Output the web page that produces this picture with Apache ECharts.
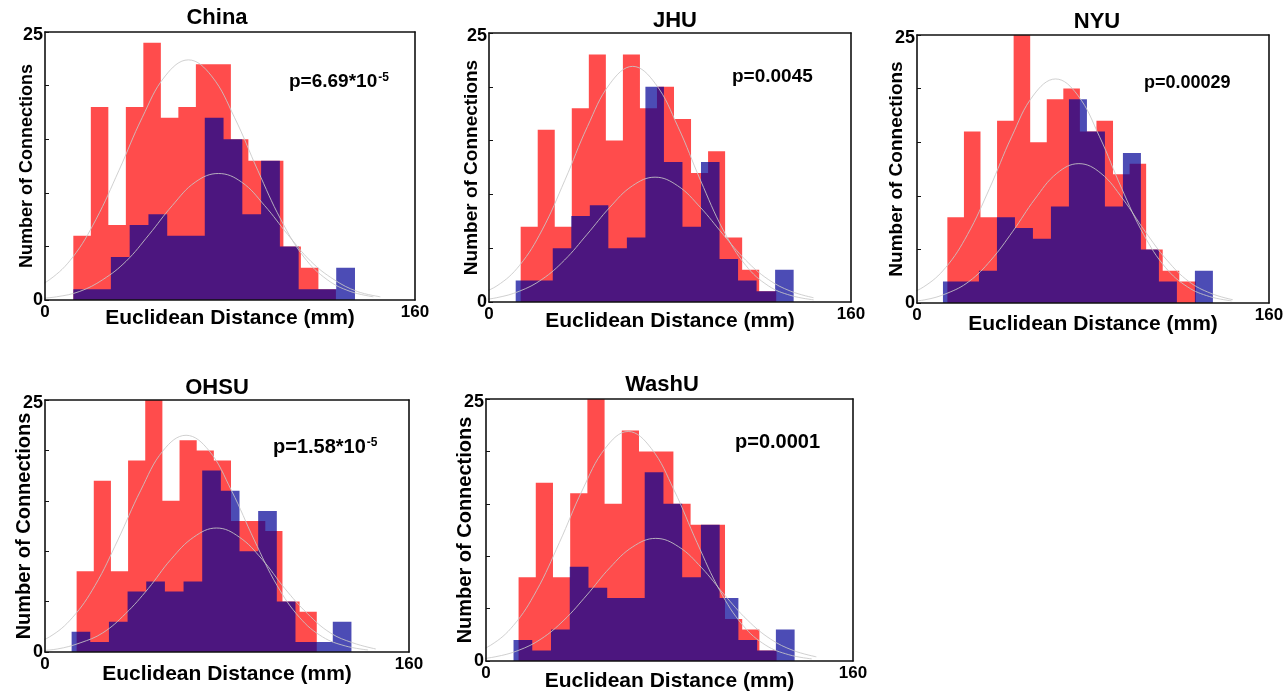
<!DOCTYPE html>
<html>
<head>
<meta charset="utf-8">
<title>Euclidean Distance of Connections</title>
<script src="https://cdn.jsdelivr.net/npm/echarts@6/dist/echarts.min.js"></script>
<style>
  html, body { margin: 0; padding: 0; background: #fff; }
  #chart { width: 1287px; height: 695px; }
</style>
</head>
<body>
<div id="chart"></div>
<script>
// Histogram bins: first edge (mm), bin width (mm) and counts per bin.
// Red = first group, blue = second group, per site.
const chinaRedStart = 12.25, chinaRedWidth = 7.57;
const chinaRedCounts = [6, 18, 7, 18, 24, 17, 18, 22, 22, 15, 13, 13, 5, 3, 1];
const chinaBlueStart = 12.25, chinaBlueWidth = 8.12;
const chinaBlueCounts = [1, 1, 4, 7, 8, 6, 6, 17, 15, 8, 13, 5, 1, 1, 3];

const jhuRedStart = 14.0, jhuRedWidth = 7.53;
const jhuRedCounts = [7, 16, 7, 18, 23, 15, 23, 18, 20, 17, 12, 14, 6, 3, 1];
const jhuBlueStart = 11.8, jhuBlueWidth = 8.19;
const jhuBlueCounts = [2, 2, 5, 8, 9, 5, 6, 20, 13, 7, 13, 4, 2, 1, 3];

const nyuRedStart = 13.8, nyuRedWidth = 7.53;
const nyuRedCounts = [8, 16, 8, 17, 25, 15, 19, 20, 16, 17, 12, 13, 5, 3, 2];
const nyuBlueStart = 11.8, nyuBlueWidth = 8.18;
const nyuBlueCounts = [2, 2, 3, 8, 7, 6, 9, 19, 16, 9, 14, 5, 2, 0, 3];

const ohsuRedStart = 13.9, ohsuRedWidth = 7.54;
const ohsuRedCounts = [8, 17, 8, 19, 25, 15, 21, 20, 19, 13, 13, 12, 5, 4];
const ohsuBlueStart = 11.7, ohsuBlueWidth = 8.2;
const ohsuBlueCounts = [2, 1, 3, 6, 7, 6, 7, 18, 16, 10, 14, 5, 1, 1, 3];

const washuRedStart = 14.2, washuRedWidth = 7.5;
const washuRedCounts = [8, 17, 8, 16, 25, 15, 22, 20, 20, 15, 13, 13, 4, 3, 1];
const washuBlueStart = 12.0, washuBlueWidth = 8.17;
const washuBlueCounts = [2, 1, 3, 9, 7, 6, 6, 18, 15, 8, 13, 6, 2, 1, 3];

// Fitted distribution curves: first sample x (mm), samples every 10 mm.
const fitStep = 10;
const chinaRedFitX0 = -8;
const chinaRedFit  = [0.8, 1.9, 4.0, 7.5, 12.1, 17.0, 20.9, 22.4, 20.9, 17.0, 12.1, 7.5, 4.0, 1.9, 0.8, 0.3];
const chinaBlueFitX0 = -5;
const chinaBlueFit = [0.1, 0.3, 0.8, 1.9, 3.6, 6.1, 8.8, 11.0, 11.8, 11.0, 8.8, 6.1, 3.6, 1.9, 0.8, 0.3];
const jhuRedFitX0 = -6.5;
const jhuRedFit    = [0.6, 1.5, 3.4, 6.7, 11.3, 16.3, 20.3, 21.9, 20.3, 16.3, 11.3, 6.7, 3.4, 1.5, 0.6, 0.2];
const jhuBlueFitX0 = -6.6;
const jhuBlueFit   = [0.1, 0.4, 1.0, 2.1, 3.9, 6.3, 8.8, 10.8, 11.6, 10.8, 8.8, 6.3, 3.9, 2.1, 1.0, 0.4];
const nyuRedFitX0 = -7;
const nyuRedFit    = [0.6, 1.5, 3.3, 6.4, 10.7, 15.5, 19.4, 20.9, 19.4, 15.5, 10.7, 6.4, 3.3, 1.5, 0.6, 0.2];
const nyuBlueFitX0 = -6.4;
const nyuBlueFit   = [0.1, 0.3, 0.9, 2.0, 4.0, 6.7, 9.7, 12.1, 13.0, 12.1, 9.7, 6.7, 4.0, 2.0, 0.9, 0.3];
const ohsuRedFitX0 = -8;
const ohsuRedFit   = [0.6, 1.5, 3.4, 6.6, 11.1, 16.0, 20.0, 21.5, 20.0, 16.0, 11.1, 6.6, 3.4, 1.5, 0.6, 0.2];
const ohsuBlueFitX0 = -4.6;
const ohsuBlueFit  = [0.1, 0.3, 0.9, 1.9, 3.8, 6.3, 9.2, 11.4, 12.3, 11.4, 9.2, 6.3, 3.8, 1.9, 0.9, 0.3];
const washuRedFitX0 = -8;
const washuRedFit  = [0.6, 1.5, 3.4, 6.7, 11.3, 16.3, 20.3, 21.9, 20.3, 16.3, 11.3, 6.7, 3.4, 1.5, 0.6, 0.2];
const washuBlueFitX0 = -6;
const washuBlueFit = [0.1, 0.4, 1.0, 2.1, 3.9, 6.3, 8.9, 10.9, 11.7, 10.9, 8.9, 6.3, 3.9, 2.1, 1.0, 0.4];

// Site names and p-values
const siteNames = ['China', 'JHU', 'NYU', 'OHSU', 'WashU'];
const pMantissa = ['p=6.69*10', 'p=0.0045', 'p=0.00029', 'p=1.58*10', 'p=0.0001'];
const pExponent = ['-5', '', '', '-5', ''];

// Axis ranges and labelled ticks
const xRange = [0, 160];
const yRange = [0, 25];
const xTickLabels = ['0', '160'];
const yTickLabels = ['0', '25'];

const sites = [
  { red: [chinaRedStart, chinaRedWidth, chinaRedCounts], blue: [chinaBlueStart, chinaBlueWidth, chinaBlueCounts],
    fits: [[chinaRedFitX0, chinaRedFit], [chinaBlueFitX0, chinaBlueFit]] },
  { red: [jhuRedStart, jhuRedWidth, jhuRedCounts], blue: [jhuBlueStart, jhuBlueWidth, jhuBlueCounts],
    fits: [[jhuRedFitX0, jhuRedFit], [jhuBlueFitX0, jhuBlueFit]] },
  { red: [nyuRedStart, nyuRedWidth, nyuRedCounts], blue: [nyuBlueStart, nyuBlueWidth, nyuBlueCounts],
    fits: [[nyuRedFitX0, nyuRedFit], [nyuBlueFitX0, nyuBlueFit]] },
  { red: [ohsuRedStart, ohsuRedWidth, ohsuRedCounts], blue: [ohsuBlueStart, ohsuBlueWidth, ohsuBlueCounts],
    fits: [[ohsuRedFitX0, ohsuRedFit], [ohsuBlueFitX0, ohsuBlueFit]] },
  { red: [washuRedStart, washuRedWidth, washuRedCounts], blue: [washuBlueStart, washuBlueWidth, washuBlueCounts],
    fits: [[washuRedFitX0, washuRedFit], [washuBlueFitX0, washuBlueFit]] }
];

// Panel placement (pixels)
const layout = [
  { grid: { left: 45,  top: 32,  width: 370, height: 268 }, titleX: 217, titleY: 7,   pX: 289, pY: 72,  pSize: 19, xGap: 8,  yGap: 9,  yNameSize: 18 },
  { grid: { left: 489, top: 33,  width: 362, height: 269 }, titleX: 675, titleY: 10,  pX: 732, pY: 67,  pSize: 19, xGap: 9,  yGap: 8,  yNameSize: 19 },
  { grid: { left: 917, top: 35,  width: 352, height: 268 }, titleX: 1097, titleY: 11, pX: 1144, pY: 74, pSize: 18, xGap: 11, yGap: 11, yNameSize: 19 },
  { grid: { left: 45,  top: 400, width: 364, height: 252 }, titleX: 217, titleY: 377, pX: 273, pY: 437, pSize: 20, xGap: 12, yGap: 11, yNameSize: 20 },
  { grid: { left: 486, top: 399, width: 367, height: 262 }, titleX: 662, titleY: 374, pX: 735, pY: 432, pSize: 20, xGap: 10, yGap: 11, yNameSize: 20 }
];

const FONT = '"Liberation Sans", Arial, Helvetica, sans-serif';
const RED = 'rgba(255, 0, 0, 0.7)';
const BLUE = 'rgba(0, 0, 150, 0.7)';
const FIT = 'rgba(200, 200, 200, 0.85)';

// Outline of a histogram as a step path: left edge up, across each bin, down at the right edge.
function histPath(start, width, counts) {
  const pts = [[start, 0]];
  counts.forEach((c, i) => pts.push([start + i * width, c]));
  pts.push([start + counts.length * width, 0]);
  return pts;
}

function fitPath(x0, values) {
  return values.map((v, j) => [x0 + j * fitStep, v]);
}

const grids = [], xAxes = [], yAxes = [], series = [], titles = [];
const frameLine = () => ({ show: true, onZero: false, lineStyle: { color: '#111', width: 1.6 } });

sites.forEach((site, i) => {
  const L = layout[i];
  grids.push(Object.assign({ containLabel: false }, L.grid));

  // bottom x axis
  xAxes.push({
    type: 'value', gridIndex: i, position: 'bottom', min: xRange[0], max: xRange[1], interval: xRange[1] - xRange[0],
    z: 5, axisLine: frameLine(), axisTick: { show: false }, splitLine: { show: false },
    axisLabel: {
      margin: 4, color: '#000', fontFamily: FONT, fontWeight: 'bold', fontSize: 17,
      formatter: v => (v === xRange[0] ? xTickLabels[0] : v === xRange[1] ? xTickLabels[1] : '')
    },
    name: 'Euclidean Distance (mm)', nameLocation: 'middle', nameGap: L.xGap, nameMoveOverlap: false,
    nameTextStyle: { color: '#000', fontFamily: FONT, fontWeight: 'bold', fontSize: 21, verticalAlign: 'top' }
  });
  // top frame edge
  xAxes.push({
    type: 'value', gridIndex: i, position: 'top', min: xRange[0], max: xRange[1],
    z: 5, axisLine: frameLine(), axisTick: { show: false }, axisLabel: { show: false }, splitLine: { show: false }
  });
  // left y axis
  yAxes.push({
    type: 'value', gridIndex: i, position: 'left', min: yRange[0], max: yRange[1], interval: 5,
    z: 5, axisLine: frameLine(),
    axisTick: { show: true, inside: true, length: 4, lineStyle: { color: '#111', width: 1 } },
    splitLine: { show: false },
    axisLabel: {
      margin: 2, color: '#000', fontFamily: FONT, fontWeight: 'bold', fontSize: 18,
      formatter: v => (v === yRange[0] ? yTickLabels[0] : v === yRange[1] ? '{hi|' + yTickLabels[1] + '}' : ''),
      rich: { hi: { fontFamily: FONT, fontWeight: 'bold', fontSize: 18, color: '#000', padding: [6, 0, 0, 0] } }
    },
    name: 'Number of Connections', nameLocation: 'middle', nameGap: L.yGap, nameMoveOverlap: false,
    nameTextStyle: { color: '#000', fontFamily: FONT, fontWeight: 'bold', fontSize: L.yNameSize }
  });
  // right frame edge
  yAxes.push({
    type: 'value', gridIndex: i, position: 'right', min: yRange[0], max: yRange[1],
    z: 5, axisLine: frameLine(), axisTick: { show: false }, axisLabel: { show: false }, splitLine: { show: false }
  });

  const xi = 2 * i, yi = 2 * i;
  [[site.red, RED, 2], [site.blue, BLUE, 3]].forEach(([h, color, z]) => {
    series.push({
      type: 'line', xAxisIndex: xi, yAxisIndex: yi, z: z, step: 'end',
      data: histPath(...h), showSymbol: false, silent: true,
      lineStyle: { width: 0, opacity: 0 },
      areaStyle: { color: color, opacity: 1, origin: 'start' }
    });
  });
  site.fits.forEach(([x0, vals]) => {
    series.push({
      type: 'line', xAxisIndex: xi, yAxisIndex: yi, z: 4,
      data: fitPath(x0, vals), smooth: 0.4, showSymbol: false, silent: true, clip: true,
      lineStyle: { color: FIT, width: 1 }
    });
  });

  titles.push({
    text: siteNames[i], left: L.titleX, top: L.titleY, textAlign: 'center', padding: 0,
    textStyle: { fontFamily: FONT, fontWeight: 'bold', fontSize: 22, color: '#000' }
  });
  const pText = '{m|' + pMantissa[i] + '}' + (pExponent[i] ? '{e|' + pExponent[i] + '}' : '');
  titles.push({
    text: pText, left: L.pX, top: L.pY, padding: 0,
    textStyle: {
      rich: {
        m: { fontFamily: FONT, fontWeight: 'bold', fontSize: L.pSize, color: '#000' },
        e: { fontFamily: FONT, fontWeight: 'bold', fontSize: 12, color: '#000', verticalAlign: 'top', padding: [0, 0, 0, 1] }
      }
    }
  });
});

const chart = echarts.init(document.getElementById('chart'), null, { renderer: 'canvas' });
chart.setOption({
  backgroundColor: '#ffffff',
  animation: false,
  title: titles,
  grid: grids,
  xAxis: xAxes,
  yAxis: yAxes,
  series: series
});
</script>
</body>
</html>
